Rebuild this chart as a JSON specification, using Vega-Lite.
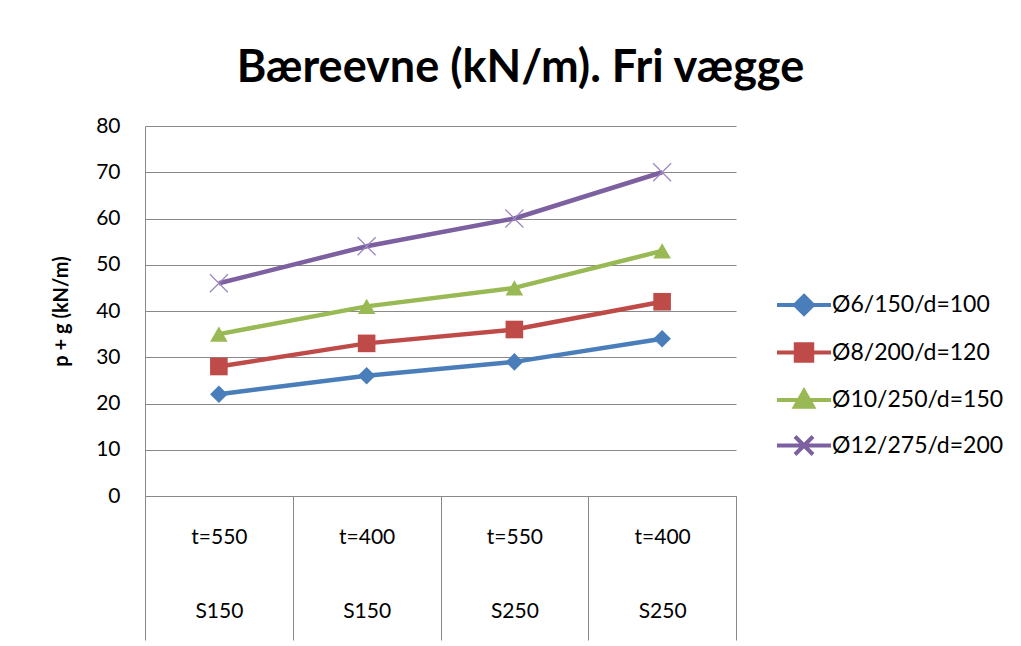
{
  "$schema": "https://vega.github.io/schema/vega-lite/v6.json",
  "width": 591,
  "height": 370,
  "autosize": {"type": "none"},
  "padding": {"left": 145, "top": 126, "right": 285, "bottom": 150},
  "background": "white",
  "config": {
    "font": "Lato",
    "view": {"stroke": null},
    "title": {"font": "Lato"}
  },
  "title": {
    "text": "Bæreevne (kN/m). Fri vægge",
    "fontSize": 45,
    "fontWeight": "bold",
    "color": "#000000",
    "anchor": "middle",
    "dx": 80,
    "offset": 24
  },
  "data": {
    "values": [
      {"serie": "Ø6/150/d=100", "kat": "t=550|S150", "v": 22},
      {"serie": "Ø6/150/d=100", "kat": "t=400|S150", "v": 26},
      {"serie": "Ø6/150/d=100", "kat": "t=550|S250", "v": 29},
      {"serie": "Ø6/150/d=100", "kat": "t=400|S250", "v": 34},
      {"serie": "Ø8/200/d=120", "kat": "t=550|S150", "v": 28},
      {"serie": "Ø8/200/d=120", "kat": "t=400|S150", "v": 33},
      {"serie": "Ø8/200/d=120", "kat": "t=550|S250", "v": 36},
      {"serie": "Ø8/200/d=120", "kat": "t=400|S250", "v": 42},
      {"serie": "Ø10/250/d=150", "kat": "t=550|S150", "v": 35},
      {"serie": "Ø10/250/d=150", "kat": "t=400|S150", "v": 41},
      {"serie": "Ø10/250/d=150", "kat": "t=550|S250", "v": 45},
      {"serie": "Ø10/250/d=150", "kat": "t=400|S250", "v": 53},
      {"serie": "Ø12/275/d=200", "kat": "t=550|S150", "v": 46},
      {"serie": "Ø12/275/d=200", "kat": "t=400|S150", "v": 54},
      {"serie": "Ø12/275/d=200", "kat": "t=550|S250", "v": 60},
      {"serie": "Ø12/275/d=200", "kat": "t=400|S250", "v": 70}
    ]
  },
  "encoding": {
    "x": {
      "field": "kat",
      "type": "ordinal",
      "sort": ["t=550|S150", "t=400|S150", "t=550|S250", "t=400|S250"],
      "scale": {"paddingInner": 0, "paddingOuter": 0},
      "axis": {
        "title": null,
        "labelExpr": "split(datum.label, '|')",
        "labelAngle": 0,
        "labelFontSize": 21,
        "labelColor": "#000000",
        "labelLineHeight": 74,
        "labelBaseline": "middle",
        "labelPadding": -103,
        "tickBand": "extent",
        "tickSize": 144,
        "tickColor": "#898989",
        "domainColor": "#898989",
        "grid": false
      }
    },
    "y": {
      "field": "v",
      "type": "quantitative",
      "scale": {"domain": [0, 80]},
      "axis": {
        "title": "p + g (kN/m)",
        "titleFontSize": 20,
        "titleFontWeight": "bold",
        "titleColor": "#000000",
        "titlePadding": 24,
        "values": [0, 10, 20, 30, 40, 50, 60, 70, 80],
        "labelFontSize": 21,
        "labelColor": "#000000",
        "labelPadding": 25,
        "ticks": false,
        "domainColor": "#898989",
        "gridColor": "#898989",
        "gridOpacity": 1
      }
    },
    "color": {
      "field": "serie",
      "type": "nominal",
      "scale": {
        "domain": ["Ø6/150/d=100", "Ø8/200/d=120", "Ø10/250/d=150", "Ø12/275/d=200"],
        "range": ["#4A7EBB", "#BE4B48", "#98B954", "#7D60A0"]
      }
    }
  },
  "layer": [
    {
      "mark": {"type": "line", "strokeWidth": 4.5},
      "encoding": {
        "color": {
          "field": "serie",
          "type": "nominal",
          "legend": {
            "title": null,
            "orient": "none",
            "legendX": 642,
            "legendY": 162,
            "symbolSize": 900,
            "labelFontSize": 23,
            "labelLimit": 0,
            "labelColor": "#000000",
            "labelOffset": 11,
            "rowPadding": 13.5,
            "encode": {
              "symbols": {
                "update": {
                  "shape": {"signal": "datum.value === 'Ø6/150/d=100' ? 'M-1.8,0H1.8M0,-0.6L0.6,0L0,0.6L-0.6,0Z' : datum.value === 'Ø8/200/d=120' ? 'M-1.8,0H1.8M-0.55,-0.55H0.55V0.55H-0.55Z' : datum.value === 'Ø10/250/d=150' ? 'M-1.8,0H1.8M0,-0.6L0.6,0.45H-0.6Z' : 'M-1.8,0H1.8M-0.6,-0.6L0.6,0.6M-0.6,0.6L0.6,-0.6'"},
                  "fill": {"scale": "color", "field": "value"},
                  "stroke": {"scale": "color", "field": "value"},
                  "strokeWidth": {"value": 4},
                  "opacity": {"value": 1}
                }
              }
            }
          }
        }
      }
    },
    {
      "transform": [{"filter": "datum.serie !== 'Ø12/275/d=200'"}],
      "mark": {"type": "point", "filled": true, "opacity": 1, "size": 310},
      "encoding": {
        "shape": {
          "field": "serie",
          "type": "nominal",
          "scale": {
            "domain": ["Ø6/150/d=100", "Ø8/200/d=120", "Ø10/250/d=150"],
            "range": ["diamond", "square", "triangle-up"]
          },
          "legend": null
        },
        "color": {"field": "serie", "type": "nominal", "legend": null}
      }
    },
    {
      "transform": [{"filter": "datum.serie === 'Ø12/275/d=200'"}],
      "mark": {"type": "point", "shape": "M-1,-1L1,1M-1,1L1,-1", "filled": false, "size": 324, "strokeWidth": 1.2, "opacity": 1, "stroke": "#9C85C0"}
    }
  ]
}
